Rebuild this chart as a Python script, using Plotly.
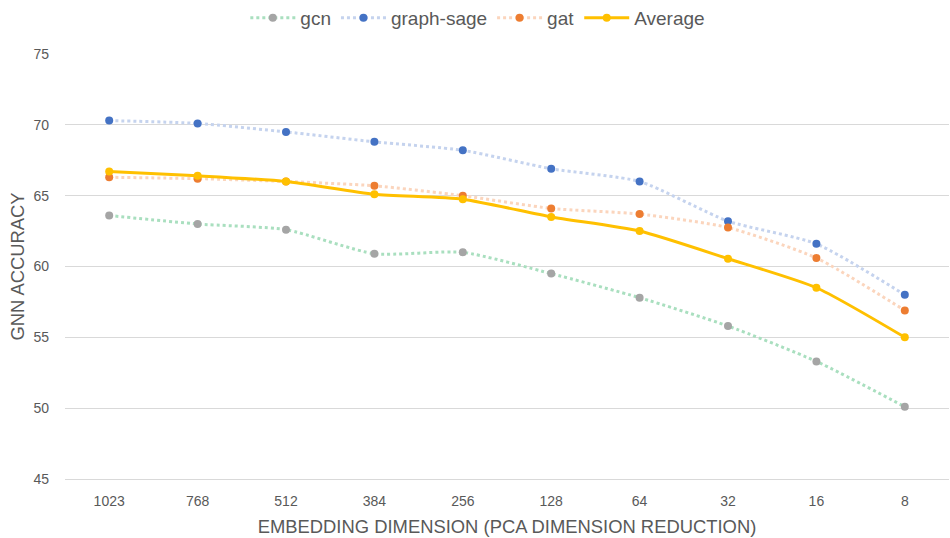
import plotly.graph_objects as go

categories = ["1023", "768", "512", "384", "256", "128", "64", "32", "16", "8"]
gcn = [63.6, 63.0, 62.6, 60.9, 61.0, 59.5, 57.8, 55.8, 53.3, 50.1]
graph_sage = [70.3, 70.1, 69.5, 68.8, 68.2, 66.9, 66.0, 63.2, 61.6, 58.0]
gat = [66.3, 66.2, 66.0, 65.7, 65.0, 64.1, 63.7, 62.75, 60.6, 56.9]
average = [66.7, 66.4, 66.0, 65.1, 64.75, 63.5, 62.5, 60.55, 58.5, 55.0]
y_ticks = [45, 50, 55, 60, 65, 70, 75]

FONT = "Liberation Sans"
TXT = "#595959"

fig = go.Figure()
series = [
    ("gcn", gcn, "#a9dfbf", "#a5a5a5", "dot", 3),
    ("graph-sage", graph_sage, "#c5d3ee", "#4472c4", "dot", 3),
    ("gat", gat, "#fbd5bd", "#ed7d31", "dot", 3),
    ("Average", average, "#ffc000", "#ffc000", "solid", 3),
]
for name, vals, lc, mc, dash, w in series:
    fig.add_trace(go.Scatter(
        x=categories, y=vals, name=name, mode="lines+markers",
        line=dict(color=lc, width=w, dash=dash, shape="spline", smoothing=0.6),
        marker=dict(color=mc, size=8),
    ))

fig.update_layout(
    width=950, height=538,
    margin=dict(l=65, r=1, t=54, b=59, autoexpand=False),
    paper_bgcolor="white", plot_bgcolor="white",
    font=dict(family=FONT, color=TXT, size=14),
    legend=dict(orientation="h", x=0.467, xanchor="center", y=1.085, yanchor="middle",
                yref="paper", itemwidth=45, font=dict(size=19, color=TXT)),
    showlegend=True,
)
fig.update_xaxes(
    type="category", range=[-0.5, 9.5], showgrid=False, showline=True, linecolor="#d9d9d9", linewidth=1,
    ticks="", tickfont=dict(size=14, color=TXT), automargin=False, ticklabelstandoff=9,
    title=dict(text="EMBEDDING DIMENSION (PCA DIMENSION REDUCTION)", font=dict(size=18.4, color=TXT), standoff=12),
)
fig.update_yaxes(
    range=[45, 75], tickvals=y_ticks, showgrid=True, gridcolor="#d9d9d9", gridwidth=1,
    zeroline=False, showline=False, ticks="", ticklabelstandoff=15, automargin=False,
    tickfont=dict(size=14, color=TXT),
    title=dict(text="GNN ACCURACY", font=dict(size=18.4, color=TXT), standoff=3),
)
fig.write_html("out.html", config={"displayModeBar": False},
               post_script="document.body.style.margin='0px';document.body.style.overflow='hidden';")
